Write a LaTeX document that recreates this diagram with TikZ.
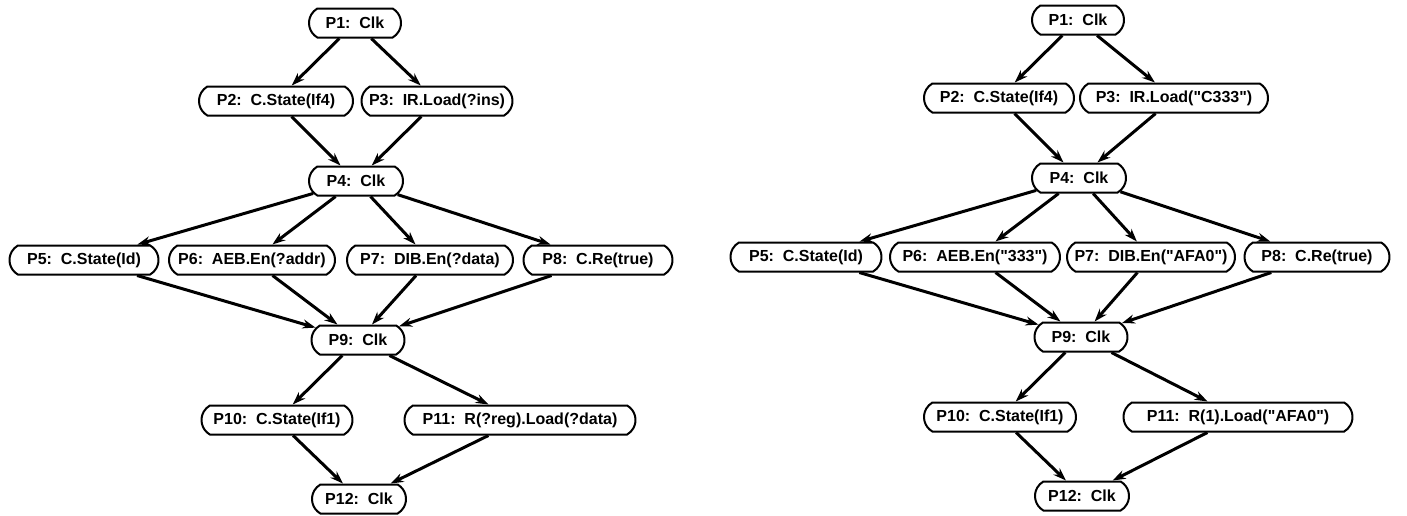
\documentclass[tikz,border=0pt]{standalone}
\usepackage{fontspec}
\setmainfont{Liberation Sans}
\usetikzlibrary{arrows.meta,shapes.misc}
\tikzset{
    % process node and flow arrow
    proc/.style={rounded rectangle,rounded rectangle arc length=120,draw,line width=1pt,minimum height=14.5pt,inner xsep=1pt,inner ysep=0pt,font=\fontsize{8}{9}\selectfont\bfseries},
    flow/.style={-{Stealth[length=6.5pt,width=4.5pt]},line width=1.5pt}
}
\newcommand{\qt}[1]{\textquotedbl#1\textquotedbl}
\begin{document}
\begin{tikzpicture}[x=0.5pt,y=-0.5pt]
    \useasboundingbox (0,0) rectangle (1407,515);
    % Left graph (variables)
    \node[proc,minimum width=48pt] (l1) at (355,23) {P1:\ \ Clk};
    \node[proc,minimum width=79pt] (l2) at (276,101) {P2:\ \ C.State(If4)};
    \node[proc,minimum width=77.5pt] (l3) at (437,101) {P3:\ \ IR.Load(?ins)};
    \node[proc,minimum width=49pt] (l4) at (356,181) {P4:\ \ Clk};
    \node[proc,minimum width=76.5pt] (l5) at (84,260) {P5:\ \ C.State(Id)};
    \node[proc,minimum width=85pt] (l6) at (252,260) {P6:\ \ AEB.En(?addr)};
    \node[proc,minimum width=85pt] (l7) at (430,260) {P7:\ \ DIB.En(?data)};
    \node[proc,minimum width=76.5pt] (l8) at (598,260) {P8:\ \ C.Re(true)};
    \node[proc,minimum width=48.5pt] (l9) at (358,340) {P9:\ \ Clk};
    \node[proc,minimum width=77.5pt] (l10) at (277,420) {P10:\ \ C.State(If1)};
    \node[proc,minimum width=117.5pt] (l11) at (520,420) {P11:\ \ R(?reg).Load(?data)};
    \node[proc,minimum width=49pt] (l12) at (359,499) {P12:\ \ Clk};
    % Right graph (bound values)
    \begin{scope}[shift={(723,-3)}]
    \node[proc,minimum width=48pt] (r1) at (355,23) {P1:\ \ Clk};
    \node[proc,minimum width=77pt] (r2) at (276,101) {P2:\ \ C.State(If4)};
    \node[proc,minimum width=96pt] (r3) at (451,101) {P3:\ \ IR.Load(\qt{C333})};
    \node[proc,minimum width=49pt] (r4) at (356,181) {P4:\ \ Clk};
    \node[proc,minimum width=77.5pt] (r5) at (83,260) {P5:\ \ C.State(Id)};
    \node[proc,minimum width=87pt] (r6) at (252,260) {P6:\ \ AEB.En(\qt{333})};
    \node[proc,minimum width=86pt] (r7) at (428,260) {P7:\ \ DIB.En(\qt{AFA0})};
    \node[proc,minimum width=74.5pt] (r8) at (594,260) {P8:\ \ C.Re(true)};
    \node[proc,minimum width=48.5pt] (r9) at (358,340) {P9:\ \ Clk};
    \node[proc,minimum width=78pt] (r10) at (277,420) {P10:\ \ C.State(If1)};
    \node[proc,minimum width=116.5pt] (r11) at (515,420) {P11:\ \ R(1).Load(\qt{AFA0})};
    \node[proc,minimum width=49pt] (r12) at (359,499) {P12:\ \ Clk};
    \end{scope}
    % Arrows, left
    \draw[flow] (l1) -- (l2);
    \draw[flow] (l1) -- (l3);
    \draw[flow] (l2) -- (l4);
    \draw[flow] (l3) -- (l4);
    \draw[flow] (l4) -- (l5);
    \draw[flow] (l4) -- (l6);
    \draw[flow] (l4) -- (l7);
    \draw[flow] (l4) -- (l8);
    \draw[flow] (l5) -- (l9);
    \draw[flow] (l6) -- (l9);
    \draw[flow] (l7) -- (l9);
    \draw[flow] (l8) -- (l9);
    \draw[flow] (l9) -- (l10);
    \draw[flow] (l9) -- (l11);
    \draw[flow] (l10) -- (l12);
    \draw[flow] (l11) -- (l12);
    % Arrows, right
    \draw[flow] (r1) -- (r2);
    \draw[flow] (r1) -- (r3);
    \draw[flow] (r2) -- (r4);
    \draw[flow] (r3) -- (r4);
    \draw[flow] (r4) -- (r5);
    \draw[flow] (r4) -- (r6);
    \draw[flow] (r4) -- (r7);
    \draw[flow] (r4) -- (r8);
    \draw[flow] (r5) -- (r9);
    \draw[flow] (r6) -- (r9);
    \draw[flow] (r7) -- (r9);
    \draw[flow] (r8) -- (r9);
    \draw[flow] (r9) -- (r10);
    \draw[flow] (r9) -- (r11);
    \draw[flow] (r10) -- (r12);
    \draw[flow] (r11) -- (r12);
\end{tikzpicture}
\end{document}
